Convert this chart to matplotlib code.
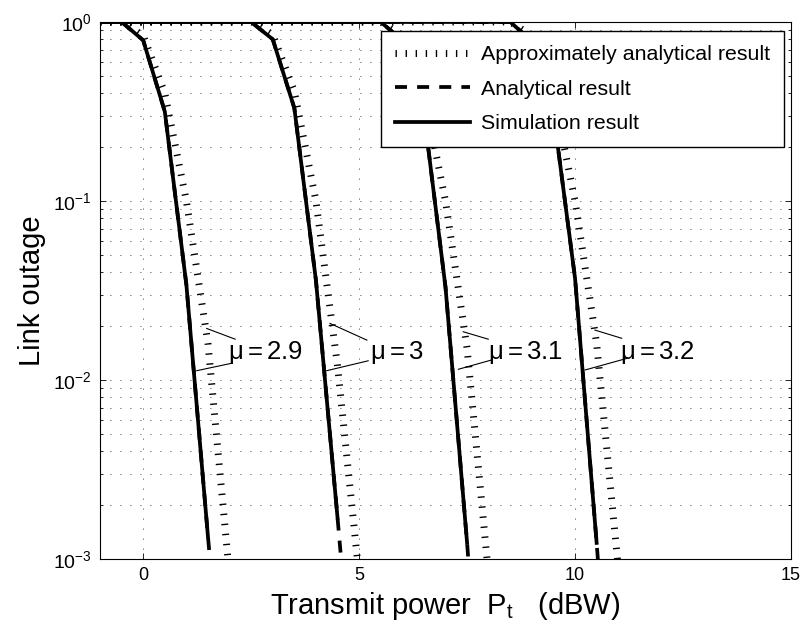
import numpy as np
import matplotlib.pyplot as plt
from matplotlib.ticker import LogLocator, NullFormatter

plt.rcParams['font.family'] = ['Liberation Sans', 'DejaVu Sans']
plt.rcParams['mathtext.fontset'] = 'custom'
plt.rcParams['mathtext.rm'] = 'Liberation Sans'
plt.rcParams['mathtext.it'] = 'Liberation Sans:italic'
plt.rcParams['mathtext.bf'] = 'Liberation Sans:bold'

# transmit power grid (dBW)
power_db = [-1, -0.5, 0, 0.5, 1, 1.5, 2, 2.5, 3, 3.5, 4, 4.5, 5, 5.5,
            6, 6.5, 7, 7.5, 8, 8.5, 9, 9.5, 10, 10.5, 11]

mu_labels = ['2.9', '3', '3.1', '3.2']

# simulation result
sim_29 = [1, 1, 0.79, 0.316, 0.034, 1.33e-3]
sim_30 = [1, 1, 1, 1, 1, 1, 1, 1, 0.80, 0.33, 0.036, 1.7e-3]
sim_31 = [1, 1, 1, 1, 1, 1, 1, 1, 1, 1, 1, 1, 1, 1, 0.79, 0.31, 0.033, 1.23e-3]
sim_32 = [1, 1, 1, 1, 1, 1, 1, 1, 1, 1, 1, 1, 1, 1, 1, 1, 1, 1, 1, 1,
          0.78, 0.31, 0.037, 1.23e-3]

# analytical result
ana_29 = [1, 1, 0.79, 0.316, 0.034, 1.33e-3, 6e-5]
ana_30 = [1, 1, 1, 1, 1, 1, 1, 1, 0.80, 0.33, 0.036, 1.7e-3, 7e-5]
ana_31 = [1, 1, 1, 1, 1, 1, 1, 1, 1, 1, 1, 1, 1, 1, 0.79, 0.31, 0.033, 1.23e-3, 3e-5]
ana_32 = [1, 1, 1, 1, 1, 1, 1, 1, 1, 1, 1, 1, 1, 1, 1, 1, 1, 1, 1, 1,
          0.78, 0.31, 0.037, 1.23e-3, 3e-5]

# approximately analytical result
apx_29 = [1, 1, 0.84, 0.40, 0.10, 0.016, 8e-4]
apx_30 = [1, 1, 1, 1, 1, 1, 1, 1, 0.85, 0.41, 0.10, 0.012, 8e-4]
apx_31 = [1, 1, 1, 1, 1, 1, 1, 1, 1, 1, 1, 1, 1, 1, 0.84, 0.40, 0.10, 0.015, 8e-4]
apx_32 = [1, 1, 1, 1, 1, 1, 1, 1, 1, 1, 1, 1, 1, 1, 1, 1, 1, 1, 1, 1,
          0.84, 0.40, 0.10, 0.016, 9e-4]

sims = [sim_29, sim_30, sim_31, sim_32]
anas = [ana_29, ana_30, ana_31, ana_32]
apxs = [apx_29, apx_30, apx_31, apx_32]

# mu label placement and leader line ends (data coords)
lab_x = [1.96, 5.25, 7.98, 11.04]
lab_y = 0.0131
lead_apx = [(1.47, 0.0194), (4.325, 0.0207), (7.41, 0.0186), (10.46, 0.0190)]
lead_apx_end = [(2.13, 0.0169), (5.18, 0.0167), (7.99, 0.0169), (11.08, 0.0171)]
lead_sim = [(1.24, 0.01127), (4.25, 0.01127), (7.30, 0.01148), (10.23, 0.01137)]
lead_sim_end = [(2.05, 0.0124), (5.21, 0.0128), (8.07, 0.01294), (11.20, 0.0132)]

fig = plt.figure(figsize=(8.04, 6.35), dpi=100)
ax = fig.add_axes([0.1244, 0.1197, 0.8594, 0.8457])
ax.set_yscale('log')

dotted = (0, (0.2, 1.25))
dashed = (0, (3.2, 2.7))

for i in range(4):
    h_ana, = ax.plot(power_db[:len(anas[i])], anas[i], color='k', lw=2.7, ls=dashed)
    h_sim, = ax.plot(power_db[:len(sims[i])], sims[i], color='k', lw=2.7, ls='-')
    h_apx, = ax.plot(power_db[:len(apxs[i])], apxs[i], color='k', lw=5, ls=dotted)
    if i == 0:
        handles = [h_apx, h_ana, h_sim]

for i in range(4):
    ax.plot([lead_apx[i][0], lead_apx_end[i][0]], [lead_apx[i][1], lead_apx_end[i][1]],
            color='k', lw=0.8)
    ax.plot([lead_sim[i][0], lead_sim_end[i][0]], [lead_sim[i][1], lead_sim_end[i][1]],
            color='k', lw=0.8)
    ax.text(lab_x[i], lab_y, r'$\mathregular{\mu=' + mu_labels[i] + '}$',
            fontsize=18.5, va='baseline', ha='left')

ax.set_xlim(-1, 15)
ax.set_ylim(1e-3, 1)
ax.set_xticks([0, 5, 10, 15])
ax.yaxis.set_major_locator(LogLocator(base=10, numticks=10))
ax.yaxis.set_minor_locator(LogLocator(base=10, subs=np.arange(2, 10), numticks=20))
ax.yaxis.set_minor_formatter(NullFormatter())

ax.tick_params(which='both', direction='in', top=True, right=True, labelsize=13, pad=6)
ax.tick_params(axis='y', labelsize=14)
ax.tick_params(which='major', length=4.3, width=0.6)
ax.tick_params(which='minor', length=2.2, width=0.6)

grid_style = dict(color='k', lw=0.6, ls=(0, (1, 11)))
ax.grid(True, which='major', axis='both', **grid_style)
ax.grid(True, which='minor', axis='y', **grid_style)

for s in ax.spines.values():
    s.set_linewidth(0.8)

ax.set_xlabel(r'Transmit power  $\mathregular{P_t}$   (dBW)', fontsize=21)
ax.set_ylabel('Link outage', fontsize=21, labelpad=5)

leg = ax.legend(handles, ['Approximately analytical result', 'Analytical result', 'Simulation result'],
                loc='upper right', bbox_to_anchor=(0.99, 0.983), borderaxespad=0,
                fontsize=15.4, handlelength=3.5, handletextpad=0.5, labelspacing=0.72,
                borderpad=0.66, fancybox=False, framealpha=1, edgecolor='k')
leg.get_frame().set_linewidth(1.0)

fig.savefig('out.png', dpi=100)
